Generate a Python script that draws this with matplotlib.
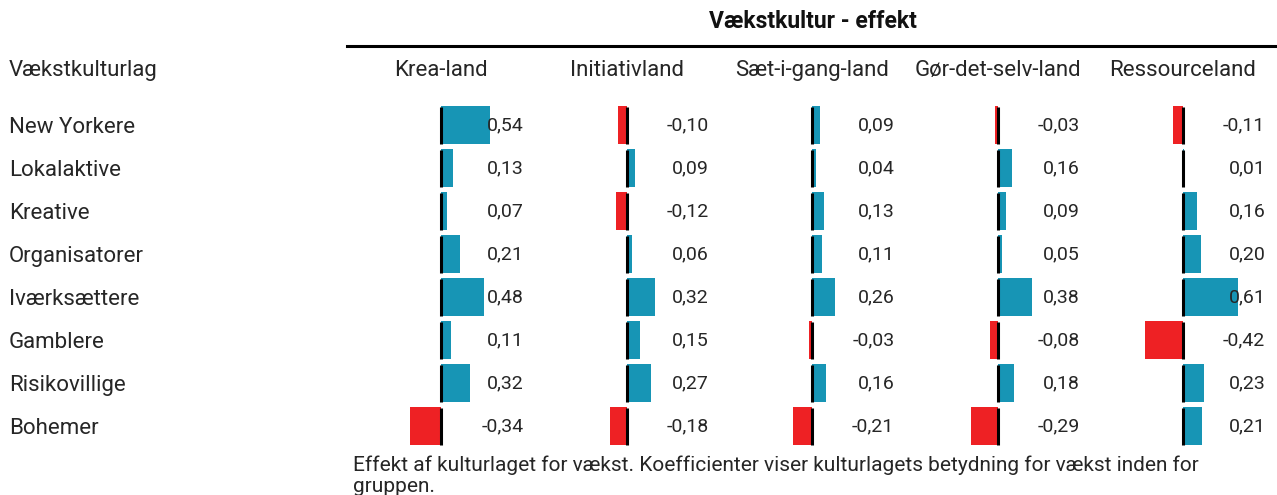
import numpy as np
import matplotlib.pyplot as plt
from matplotlib.transforms import blended_transform_factory

plt.rcParams['font.family'] = ['Roboto', 'DejaVu Sans']

# data
kulturlag = ['New Yorkere', 'Lokalaktive', 'Kreative', 'Organisatorer',
             'Iværksættere', 'Gamblere', 'Risikovillige', 'Bohemer']
lande = ['Krea-land', 'Initiativland', 'Sæt-i-gang-land', 'Gør-det-selv-land', 'Ressourceland']
krea = [0.54, 0.13, 0.07, 0.21, 0.48, 0.11, 0.32, -0.34]
initiativ = [-0.10, 0.09, -0.12, 0.06, 0.32, 0.15, 0.27, -0.18]
saet_i_gang = [0.09, 0.04, 0.13, 0.11, 0.26, -0.03, 0.16, -0.21]
goer_det_selv = [-0.03, 0.16, 0.09, 0.05, 0.38, -0.08, 0.18, -0.29]
ressource = [-0.11, 0.01, 0.16, 0.20, 0.61, -0.42, 0.23, 0.21]
effekter = [krea, initiativ, saet_i_gang, goer_det_selv, ressource]

blaa = '#1795b5'
roed = '#ee2124'
tekst = '#262626'

W, H = 1277, 495
fig = plt.figure(figsize=(W / 100, H / 100), dpi=100)

px_per_unit = 90
xmin, xmax = -0.6, 1.0
nul_px = [441, 626.5, 812, 997.5, 1183]
top_px, bund_px = 103.5, 447.5

y = np.arange(len(kulturlag))
for nul, land, vals in zip(nul_px, lande, effekter):
    left = nul + xmin * px_per_unit
    ax = fig.add_axes([left / W, 1 - bund_px / H, (xmax - xmin) * px_per_unit / W, (bund_px - top_px) / H])
    vals = np.array(vals)
    farver = [blaa if v >= 0 else roed for v in vals]
    ax.barh(y, vals, height=0.9, color=farver, zorder=2)
    ax.vlines(np.zeros(len(y)), y - 0.42, y + 0.45, color='black', lw=2.2, zorder=3)
    for yi, v in zip(y, vals):
        ax.text(0.915, yi, f'{v:.2f}'.replace('.', ','),
                ha='right', va='center', fontsize=14, color=tekst, zorder=4)
    ax.set_xlim(xmin, xmax)
    ax.set_ylim(len(y) - 0.5, -0.5)
    ax.axis('off')
    fig.text(nul / W, 1 - 68 / H, land, ha='center', va='center_baseline', fontsize=16, color=tekst)

tr = blended_transform_factory(fig.transFigure, ax.transData)
for yi, navn in zip(y, kulturlag):
    ax.text(9 / W, yi, navn, transform=tr, ha='left', va='center_baseline', fontsize=16, color=tekst)

fig.text(9 / W, 1 - 68 / H, 'Vækstkulturlag', ha='left', va='center_baseline', fontsize=16, color=tekst)
fig.text(813 / W, 1 - 22 / H, 'Vækstkultur - effekt', ha='center', va='center',
         fontsize=16.5, fontweight='bold', color='#111111')
fig.add_artist(plt.Line2D([347 / W, 1], [1 - 46 / H, 1 - 46 / H], color='black', lw=2.2))
fig.text(353 / W, 1 - 475.5 / H,
         'Effekt af kulturlaget for vækst. Koefficienter viser kulturlagets betydning for vækst inden for\ngruppen.',
         ha='left', va='center', fontsize=15, color=tekst, linespacing=1.1)

fig.savefig('out.png', dpi=100)
